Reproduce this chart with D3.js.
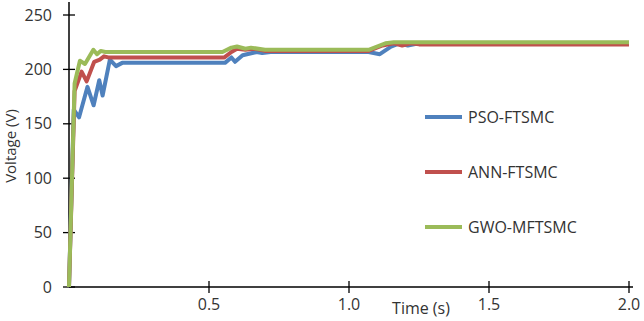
<!DOCTYPE html>
<html>
<head>
<meta charset="utf-8">
<script src="https://cdn.jsdelivr.net/npm/d3@7"></script>
<style>
  html, body { margin: 0; padding: 0; background: #fff; }
  svg { display: block; }
  text { font-family: "Open Sans", "Noto Sans", sans-serif; fill: #333; }
</style>
</head>
<body>
<svg id="chart" width="644" height="321"></svg>
<script>
// ---- data ----
const seriesNames = ["PSO-FTSMC", "ANN-FTSMC", "GWO-MFTSMC"];
const seriesColors = ["#4F81BD", "#C0504D", "#9BBB59"];

const psoTime =    [0, 0.017, 0.036, 0.066, 0.088, 0.108, 0.12, 0.146, 0.168, 0.19, 0.557, 0.58, 0.593, 0.62, 0.67, 0.69, 0.72, 1.07, 1.11, 1.15, 1.18, 1.21, 1.25, 2.0];
const psoVoltage = [0, 163,   156,   184,   167,   190,   176,  209,   203,   206,  206,   211,  207,   213,  216,  215,  216,  216,  214,  221,  224,  222,  224,  224];

const annTime =    [0, 0.02, 0.045, 0.063, 0.09, 0.11, 0.125, 0.14, 0.555, 0.58, 0.6, 0.63, 0.66, 0.7, 1.07, 1.12, 1.16, 1.19, 1.22, 1.25, 2.0];
const annVoltage = [0, 180,  198,   189,   207,  209,  212,   211,  211,   216,  219, 218,  219,  217, 217,  222,  224,  222,  224,  223,  223];

const gwoTime =    [0, 0.02, 0.039, 0.057, 0.087, 0.1, 0.113, 0.13, 0.548, 0.58, 0.6, 0.63, 0.65, 0.7, 1.07, 1.13, 1.16, 2.0];
const gwoVoltage = [0, 187,  208,   205,   218,   214, 217,   216,  216,   220,  221, 219,  220,  218, 218,  224,  225,  225];

const xTicks = [0.5, 1.0, 1.5, 2.0];
const yTicks = [0, 50, 100, 150, 200, 250];

// ---- layout ----
const svg = d3.select("#chart");
const x = d3.scaleLinear().domain([0, 2]).range([69, 629]);
const y = d3.scaleLinear().domain([0, 250]).range([287, 15]);

const series = [
  { name: seriesNames[0], color: seriesColors[0], pts: psoTime.map((t, i) => [t, psoVoltage[i]]) },
  { name: seriesNames[1], color: seriesColors[1], pts: annTime.map((t, i) => [t, annVoltage[i]]) },
  { name: seriesNames[2], color: seriesColors[2], pts: gwoTime.map((t, i) => [t, gwoVoltage[i]]) }
];

// axes lines
svg.append("line").attr("x1", x(0)).attr("x2", x(0)).attr("y1", 2).attr("y2", y(0))
  .attr("stroke", "#000").attr("stroke-width", 1.5);
svg.append("line").attr("x1", x(0)).attr("x2", 633).attr("y1", y(0)).attr("y2", y(0))
  .attr("stroke", "#000").attr("stroke-width", 1.5);

// y ticks (cross)
const yg = svg.append("g");
yTicks.forEach(v => {
  yg.append("line").attr("x1", x(0) - 6).attr("x2", x(0) + 6).attr("y1", y(v)).attr("y2", y(v))
    .attr("stroke", "#000").attr("stroke-width", 1.3);
  yg.append("text").attr("x", 52).attr("y", y(v)).attr("dy", "0.35em")
    .attr("text-anchor", "end").attr("font-size", 16).text(v);
});

// x ticks (cross)
const xg = svg.append("g");
xTicks.forEach(v => {
  xg.append("line").attr("x1", x(v)).attr("x2", x(v)).attr("y1", y(0) - 6).attr("y2", y(0) + 6)
    .attr("stroke", "#000").attr("stroke-width", 1.3);
  xg.append("text").attr("x", x(v)).attr("y", 310)
    .attr("text-anchor", "middle").attr("font-size", 16).text(d3.format(".1f")(v));
});

// axis titles
svg.append("text").attr("x", 421).attr("y", 314).attr("text-anchor", "middle")
  .attr("font-size", 16).text("Time (s)");
svg.append("text").attr("transform", "translate(16,146) rotate(-90)")
  .attr("text-anchor", "middle").attr("font-size", 15).text("Voltage (V)");

// lines
const line = d3.line().x(d => x(d[0])).y(d => y(d[1]));
series.forEach(s => {
  svg.append("path").datum(s.pts).attr("d", line)
    .attr("fill", "none").attr("stroke", s.color).attr("stroke-width", 4)
    .attr("stroke-linejoin", "round");
});

// legend
const legendY = [117, 172, 227];
series.forEach((s, i) => {
  svg.append("line").attr("x1", 425).attr("x2", 462).attr("y1", legendY[i]).attr("y2", legendY[i])
    .attr("stroke", s.color).attr("stroke-width", 4);
  svg.append("text").attr("x", 468).attr("y", legendY[i]).attr("dy", "0.36em")
    .attr("font-size", 16).text(s.name);
});
</script>
</body>
</html>
